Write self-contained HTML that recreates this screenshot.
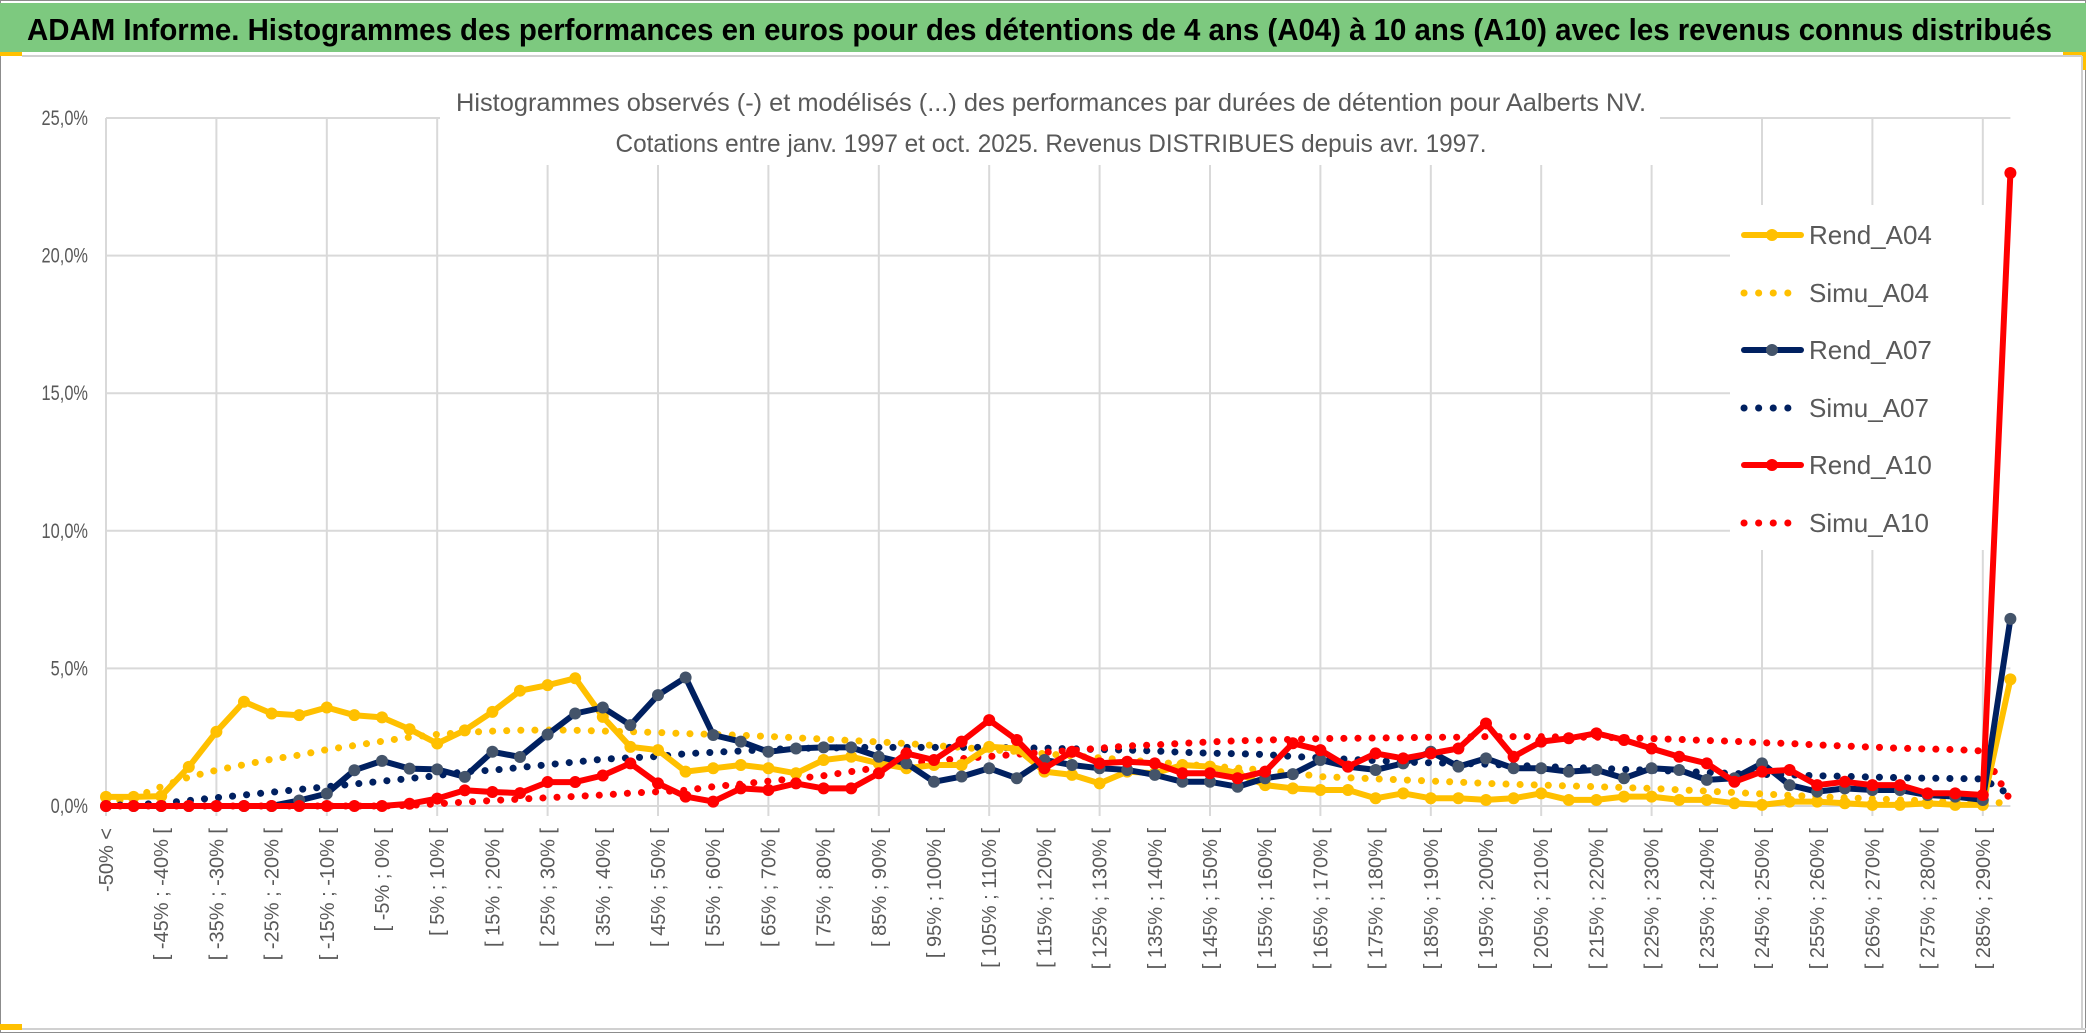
<!DOCTYPE html>
<html><head><meta charset="utf-8">
<style>
html,body{margin:0;padding:0;background:#fff;}
svg{display:block;}
text{font-family:"Liberation Sans Narrow","Liberation Sans",sans-serif;}
</style></head>
<body>
<svg id="chart" width="2086" height="1033" viewBox="0 0 2086 1033" xmlns="http://www.w3.org/2000/svg">
  <rect x="0" y="0" width="2086" height="1033" fill="#fff"/>
  <rect x="0.5" y="0.5" width="2085" height="1032" fill="none" stroke="#8c8c8c" stroke-width="1"/>
  <rect x="0" y="3" width="2086" height="49" fill="#7dc97f"/>
  <rect x="0" y="52" width="22" height="4" fill="#ffc000"/>
  <rect x="2063" y="52" width="23" height="4" fill="#ffc000"/>
  <rect x="2083" y="52" width="3" height="18" fill="#ffc000"/>
  <line x1="22" y1="56" x2="2082" y2="56" stroke="#d0d0d0" stroke-width="2"/>
  <line x1="2082" y1="56" x2="2082" y2="1029" stroke="#d0d0d0" stroke-width="2"/>
  <text x="27" y="40" font-size="31" font-weight="bold" fill="#000" textLength="2025" lengthAdjust="spacingAndGlyphs">ADAM Informe. Histogrammes des performances en euros pour des détentions de 4 ans (A04) à 10 ans (A10) avec les revenus connus distribués</text>
  <line x1="0" y1="1029" x2="2086" y2="1029" stroke="#d0d0d0" stroke-width="2"/>
  <rect x="0" y="1024" width="22" height="6" fill="#ffc000"/>
  <g id="grid"></g>
  <rect x="440" y="84" width="1220" height="81" fill="#fff"/>
  <text x="1051" y="111" font-size="25" fill="#595959" text-anchor="middle" textLength="1190" lengthAdjust="spacingAndGlyphs">Histogrammes observés (-) et modélisés (...) des performances par durées de détention pour Aalberts NV.</text>
  <text x="1051" y="152" font-size="25" fill="#595959" text-anchor="middle" textLength="871" lengthAdjust="spacingAndGlyphs">Cotations entre janv. 1997 et oct. 2025. Revenus DISTRIBUES depuis avr. 1997.</text>
  <g id="yaxis"></g>
  <g id="xaxis"></g>
  <rect x="1730" y="205" width="300" height="345" fill="#fff"/>
  <g id="series"></g>
  <g id="legend"></g>
</svg>
<script>
const yTicks = [0, 5, 10, 15, 20, 25];
const yTickLabels = ["0,0%", "5,0%", "10,0%", "15,0%", "20,0%", "25,0%"];
const seriesNames = ["Rend_A04", "Simu_A04", "Rend_A07", "Simu_A07", "Rend_A10", "Simu_A10"];
const rendA04 = [0.33,0.33,0.36,1.42,2.7,3.79,3.36,3.3,3.58,3.3,3.22,2.79,2.27,2.75,3.42,4.19,4.39,4.64,3.24,2.15,2.03,1.25,1.37,1.49,1.37,1.19,1.67,1.79,1.55,1.37,1.49,1.49,2.15,2.09,1.25,1.13,0.82,1.25,1.19,1.49,1.43,1.19,0.76,0.64,0.58,0.58,0.28,0.46,0.28,0.28,0.22,0.28,0.46,0.22,0.22,0.34,0.34,0.22,0.22,0.1,0.04,0.16,0.16,0.1,0.04,0.04,0.1,0.04,0.04,4.6];
const simuA04 = [0.1,0.3,0.7,1.05,1.3,1.5,1.7,1.85,2.05,2.2,2.35,2.5,2.6,2.67,2.72,2.75,2.76,2.75,2.72,2.7,2.67,2.63,2.6,2.57,2.53,2.48,2.43,2.38,2.33,2.27,2.2,2.13,2.05,1.98,1.9,1.82,1.75,1.67,1.6,1.52,1.45,1.38,1.3,1.2,1.07,1.03,0.99,0.95,0.91,0.87,0.82,0.79,0.76,0.73,0.7,0.67,0.64,0.59,0.54,0.49,0.44,0.39,0.34,0.3,0.26,0.22,0.19,0.16,0.14,0.1];
const rendA07 = [0,0,0,0,0,0,0,0.2,0.45,1.3,1.64,1.36,1.33,1.06,1.97,1.78,2.6,3.36,3.58,2.94,4.03,4.67,2.58,2.34,1.97,2.09,2.13,2.13,1.79,1.55,0.88,1.07,1.37,1.01,1.67,1.49,1.37,1.31,1.13,0.88,0.88,0.7,1.01,1.16,1.67,1.43,1.31,1.55,1.97,1.43,1.73,1.37,1.37,1.25,1.31,1.01,1.37,1.31,0.95,1.01,1.55,0.76,0.52,0.64,0.58,0.58,0.4,0.34,0.22,6.8];
const simuA07 = [0.02,0.05,0.1,0.2,0.3,0.4,0.5,0.6,0.7,0.8,0.9,1.0,1.1,1.25,1.3,1.4,1.5,1.6,1.7,1.75,1.8,1.9,1.95,2.0,2.05,2.1,2.1,2.13,2.13,2.13,2.13,2.13,2.13,2.12,2.1,2.08,2.05,2.03,2.0,1.95,1.92,1.9,1.87,1.8,1.75,1.7,1.65,1.6,1.57,1.55,1.52,1.48,1.44,1.4,1.37,1.33,1.3,1.26,1.22,1.18,1.15,1.13,1.1,1.08,1.05,1.03,1.01,1.0,0.98,0.4];
const rendA10 = [0,0,0,0,0,0,0,0,0,0,0,0.08,0.27,0.57,0.51,0.47,0.87,0.87,1.11,1.55,0.82,0.34,0.16,0.64,0.58,0.82,0.64,0.64,1.19,1.91,1.67,2.34,3.12,2.4,1.37,1.97,1.55,1.61,1.55,1.19,1.19,1.01,1.25,2.28,2.03,1.43,1.91,1.73,1.91,2.09,3.0,1.79,2.34,2.46,2.64,2.4,2.09,1.79,1.55,0.88,1.25,1.31,0.76,0.88,0.76,0.76,0.46,0.46,0.4,23.0];
const simuA10 = [0,0,0,0,0,0,0,0,0,0,0,0.02,0.08,0.14,0.2,0.25,0.3,0.35,0.4,0.47,0.52,0.57,0.7,0.8,0.9,1.0,1.1,1.25,1.4,1.55,1.65,1.72,1.8,1.88,1.95,2.02,2.1,2.18,2.22,2.28,2.33,2.37,2.4,2.42,2.45,2.46,2.47,2.48,2.5,2.5,2.52,2.52,2.52,2.5,2.5,2.48,2.45,2.42,2.38,2.35,2.3,2.27,2.22,2.18,2.14,2.1,2.07,2.05,2.0,0.2];

const categories = [];
categories.push("-50% <");
for (let k = 1; k <= 68; k++) { const a = -50 + 5 * (k - 1); categories.push("[ " + a + "% ; " + (a + 5) + "% ["); }
categories.push("> 290%");

const NS = "http://www.w3.org/2000/svg";
const X0 = 106, DX = 27.6, Y0 = 806, PER = 27.52;
function xs(i) { return X0 + i * DX; }
function ys(v) { return Y0 - v * PER; }
function mk(tag, attrs, parent) { const e = document.createElementNS(NS, tag); for (const k in attrs) e.setAttribute(k, attrs[k]); parent.appendChild(e); return e; }

const grid = document.getElementById("grid");
const xRight = xs(categories.length - 1);
yTicks.forEach((t) => {
  const l = mk("line", {x1: X0, x2: xRight, y1: ys(t), y2: ys(t), stroke: "#d9d9d9", "stroke-width": 2}, grid);
  
  
});
for (let i = 0; i < categories.length; i += 4) {
  const l = mk("line", {x1: xs(i), x2: xs(i), y1: ys(25), y2: Y0 + 10, stroke: "#d9d9d9", "stroke-width": 2}, grid);
  
  
}

const yaxis = document.getElementById("yaxis");
yTicks.forEach((t, i) => {
  const yy = ys(t) + 7;
  const tx = mk("text", {x: 0, y: 0, "font-size": 21, fill: "#595959", "text-anchor": "end", transform: "translate(88 " + yy + ") scale(0.78 1)"}, yaxis);
  tx.textContent = yTickLabels[i];
  
  
});

const xaxis = document.getElementById("xaxis");
categories.forEach((c, i) => {
  if (i % 2 !== 0) return;
  const x = xs(i) + 7, y = 828;
  const tx = mk("text", {x: x, y: y, "font-size": 20, fill: "#595959", "text-anchor": "end", transform: "rotate(-90 " + x + " " + y + ")", "font-family": "Liberation Sans, sans-serif"}, xaxis);
  tx.textContent = c;
  
  
});

const seriesG = document.getElementById("series");
function pts(arr) { return arr.map((v, i) => xs(i).toFixed(1) + "," + ys(v).toFixed(1)).join(" "); }
function dotted(arr, color, name) {
  const p = mk("polyline", {points: pts(arr), fill: "none", stroke: color, "stroke-width": 7, "stroke-linecap": "round", "stroke-dasharray": "0.1 14"}, seriesG);
  
  
}
function solid(arr, color, mcolor, name) {
  const p = mk("polyline", {points: pts(arr), fill: "none", stroke: color, "stroke-width": 6, "stroke-linejoin": "round"}, seriesG);
  
  
  arr.forEach((v, i) => {
    const c = mk("circle", {cx: xs(i), cy: ys(v), r: 6, fill: mcolor}, seriesG);
    
    
  });
}
dotted(simuA04, "#ffc000", "simu-a04-line");
dotted(simuA07, "#002060", "simu-a07-line");
dotted(simuA10, "#ff0000", "simu-a10-line");
solid(rendA04, "#ffc000", "#ffc000", "rend-a04-line");
solid(rendA07, "#002060", "#44546a", "rend-a07-line");
solid(rendA10, "#ff0000", "#ff0000", "rend-a10-line");

const legend = document.getElementById("legend");
const legendRows = [235, 293, 350, 408, 465, 523];
const legendStyles = [["#ffc000", "#ffc000", false], ["#ffc000", null, true], ["#002060", "#44546a", false], ["#002060", null, true], ["#ff0000", "#ff0000", false], ["#ff0000", null, true]];
seriesNames.forEach((n, i) => {
  const y = legendRows[i], s = legendStyles[i];
  const ln = mk("line", {x1: 1744, x2: 1801, y1: y, y2: y, stroke: s[0], "stroke-width": s[2] ? 7 : 6, "stroke-linecap": "round"}, legend);
  if (s[2]) ln.setAttribute("stroke-dasharray", "0.1 14.5");
  
  
  if (s[1]) {
    const c = mk("circle", {cx: 1772, cy: y, r: 6, fill: s[1]}, legend);
    
    
  }
  const t = mk("text", {x: 1809, y: y + 9, "font-size": 26, fill: "#595959"}, legend);
  t.textContent = n;
  
  
});
</script>
</body></html>
